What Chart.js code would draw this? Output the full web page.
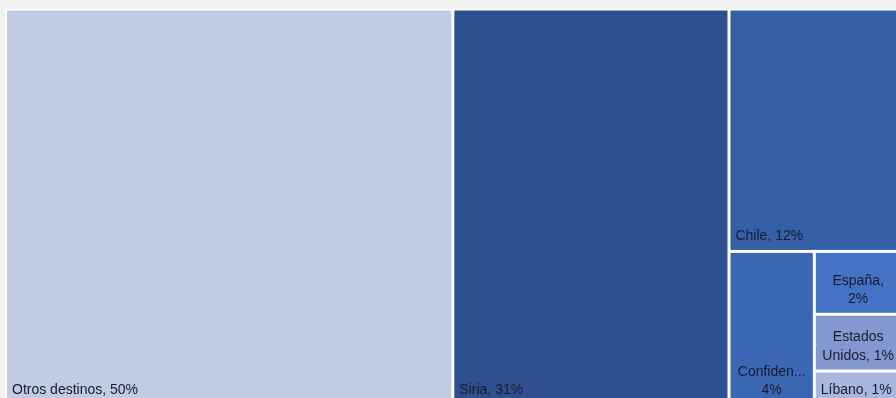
<!DOCTYPE html>
<html>
<head>
<meta charset="utf-8">
<script src="https://cdn.jsdelivr.net/npm/chart.js@4.4.0/dist/chart.umd.min.js"></script>
<style>
  html, body { margin: 0; padding: 0; background: #f2f2f2; overflow: hidden; width: 896px; height: 398px; }
  canvas { display: block; }
</style>
</head>
<body>
<canvas id="grafico" width="910" height="412"></canvas>
<script>
// Destinos (% del total)
const categorias = ['Otros destinos', 'Siria', 'Chile', 'Confidencial', 'España', 'Estados Unidos', 'Líbano'];
const porcentajes = [49.9, 30.8, 11.8, 3.7, 1.55, 1.4, 0.85];
const colores = ['#c1cbe3', '#2f5090', '#3560a6', '#3b67b3', '#4472c4', '#8398d0', '#a9b7de'];

// algoritmo squarify
function peor(fila, lado) {
  const s = fila.reduce((t, it) => t + it.a, 0);
  const mx = Math.max(...fila.map(it => it.a));
  const mn = Math.min(...fila.map(it => it.a));
  return Math.max(lado * lado * mx / (s * s), (s * s) / (lado * lado * mn));
}

function squarify(items, x, y, w, h, out) {
  if (!items.length) return;
  const lado = Math.min(w, h);
  let fila = [items[0]];
  let k = 1;
  while (k < items.length) {
    const sig = fila.concat(items[k]);
    if (peor(sig, lado) <= peor(fila, lado)) { fila = sig; k++; } else break;
  }
  const s = fila.reduce((t, it) => t + it.a, 0);
  const grosor = s / lado;
  let off = 0;
  if (w >= h) {
    fila.forEach(it => { const l = it.a / grosor; out.push({ i: it.i, x: x, y: y + off, w: grosor, h: l }); off += l; });
    squarify(items.slice(k), x + grosor, y, w - grosor, h, out);
  } else {
    fila.forEach(it => { const l = it.a / grosor; out.push({ i: it.i, x: x + off, y: y, w: l, h: grosor }); off += l; });
    squarify(items.slice(k), x, y + grosor, w, h - grosor, out);
  }
}

function recortar(ctx, t, maxW) {
  if (ctx.measureText(t).width <= maxW) return t;
  let s = t;
  while (s.length > 1 && ctx.measureText(s + '...').width > maxW) s = s.slice(0, -1);
  return s + '...';
}

function partirTexto(ctx, texto, maxW) {
  const palabras = texto.split(' ');
  const lineas = [];
  let actual = '';
  palabras.forEach(p => {
    const prueba = actual ? actual + ' ' + p : p;
    if (!actual || ctx.measureText(prueba).width <= maxW) actual = prueba;
    else { lineas.push(actual); actual = p; }
  });
  lineas.push(actual);
  return lineas.map(l => recortar(ctx, l, maxW));
}

const treemap = {
  id: 'treemap',
  afterDatasetsDraw(chart) {
    const { ctx, chartArea: a, scales: { x, y } } = chart;
    const kx = a.width / 100, ky = a.height / 100;
    const total = porcentajes.reduce((t, v) => t + v, 0);
    const items = porcentajes
      .map((v, i) => ({ i, a: v / total * 100 * kx * 100 * ky }))
      .sort((p, q) => q.a - p.a);
    const rects = [];
    squarify(items, 0, 0, 100 * kx, 100 * ky, rects);

    ctx.save();
    ctx.fillStyle = '#ffffff';
    ctx.fillRect(a.left, a.top, a.width, a.height);
    ctx.font = '14px "Liberation Sans", Arial, sans-serif';
    ctx.textBaseline = 'middle';
    const gap = 1.5, lh = 18.5;

    rects.forEach(r => {
      const x0 = x.getPixelForValue(r.x / kx) + gap;
      const x1 = x.getPixelForValue((r.x + r.w) / kx) - gap;
      const y0 = y.getPixelForValue(r.y / ky) + gap;
      const y1 = y.getPixelForValue((r.y + r.h) / ky) - gap;
      ctx.fillStyle = colores[r.i];
      ctx.fillRect(x0, y0, x1 - x0, y1 - y0);

      const texto = categorias[r.i] + ', ' + Math.round(porcentajes[r.i]) + '%';
      const maxW = (x1 - x0) - 12;
      ctx.fillStyle = '#171d2e';
      let lineas = [texto];
      let centrado = false;
      if (ctx.measureText(texto).width > maxW) {
        const partes = partirTexto(ctx, texto, maxW);
        if (partes.length * lh <= (y1 - y0) - 6) { lineas = partes; centrado = true; }
      }
      const n = lineas.length;
      lineas.forEach((l, j) => {
        const ty = y1 - 13.5 - (n - 1 - j) * lh;
        if (centrado) {
          ctx.textAlign = 'center';
          ctx.fillText(l, (x0 + x1) / 2, ty);
        } else {
          ctx.textAlign = 'left';
          ctx.fillText(l, x0 + 5, ty);
        }
      });
    });
    ctx.restore();
  }
};

new Chart(document.getElementById('grafico'), {
  type: 'scatter',
  data: { datasets: [{ label: 'Destinos', data: [] }] },
  options: {
    responsive: false,
    animation: false,
    layout: { padding: { left: 5.5, top: 9, right: 8, bottom: 6.5 } },
    scales: {
      x: { type: 'linear', min: 0, max: 100, display: false },
      y: { type: 'linear', min: 0, max: 100, reverse: true, display: false }
    },
    plugins: { legend: { display: false }, tooltip: { enabled: false } }
  },
  plugins: [treemap]
});
</script>
</body>
</html>
